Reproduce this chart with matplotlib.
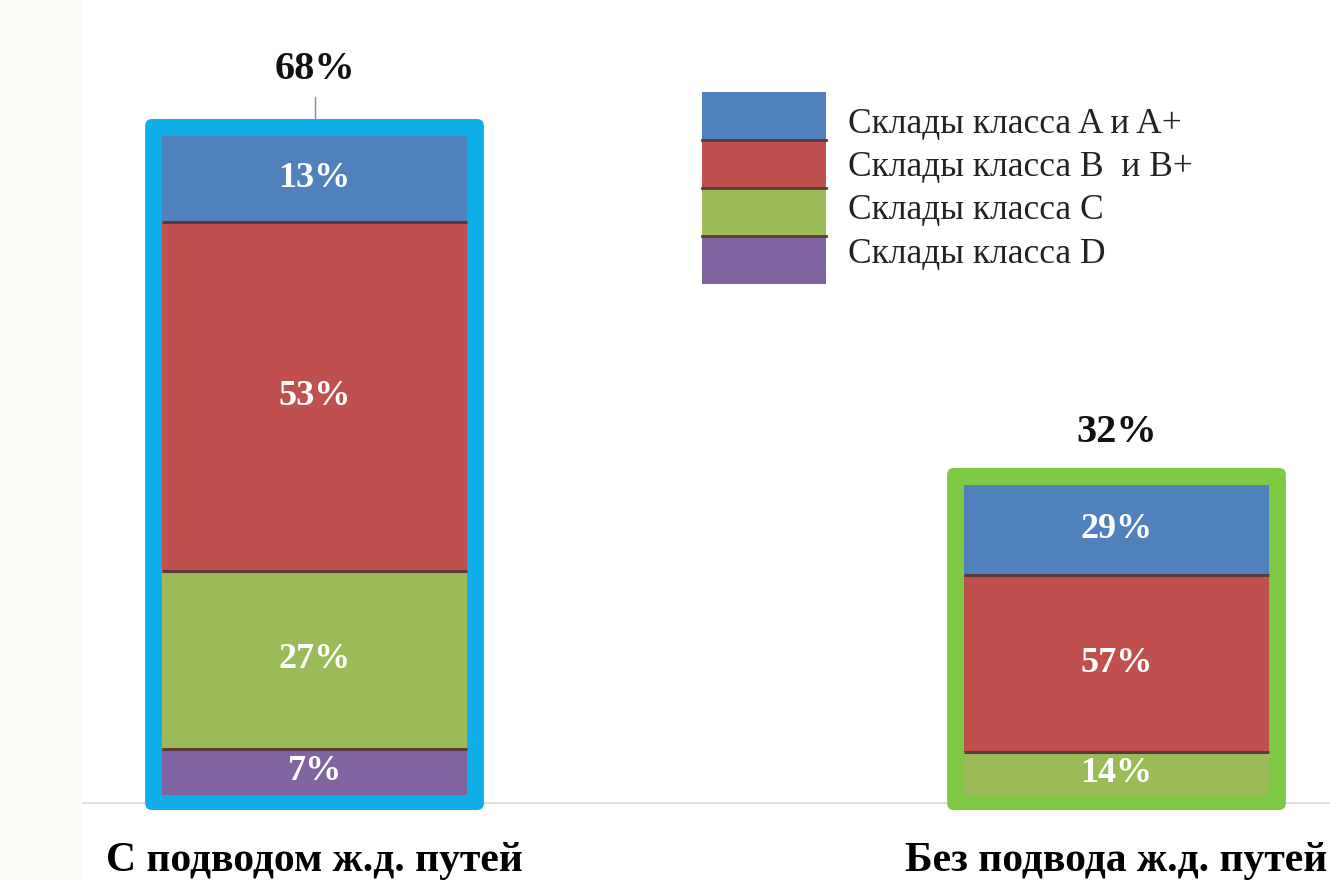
import numpy as np
import matplotlib
matplotlib.use("Agg")
import matplotlib.pyplot as plt
from matplotlib.patches import Rectangle, FancyBboxPatch
from matplotlib.transforms import IdentityTransform

# data
categories = ["С подводом ж.д. путей", "Без подвода ж.д. путей"]
totals = [68, 32]                      # share of all warehouses, %
classes = ["Склады класса A и A+", "Склады класса B  и B+",
           "Склады класса C", "Склады класса D"]
# share of each class inside a category, % (top -> bottom order in bar)
shares = {
    "Склады класса A и A+": [13, 29],
    "Склады класса B  и B+": [53, 57],
    "Склады класса C": [27, 14],
    "Склады класса D": [7, 0],
}

colors = ["#4F81BD", "#C0504D", "#9BBB59", "#8064A2"]
frame_colors = ["#0FAEE8", "#7DC944"]
sep_color = "#5a3a3a"

plt.rcParams["font.family"] = ["Liberation Serif", "DejaVu Serif"]

W, H = 1330, 880
fig = plt.figure(figsize=(13.3, 8.8), dpi=100, facecolor="white")
# faint off-white strip on the left edge of the slide
fig.add_artist(Rectangle((0, 0), 82 / W, 1, transform=fig.transFigure,
                         color="#fcfcf8", lw=0, zorder=-5))
ax = fig.add_axes([83 / W, 0.0875, 1 - 83 / W, 0.9])
ax.set_facecolor("white")

x = np.arange(len(categories))
w = 0.38
ax.set_xlim(-0.2887, 1.2662)
ax.set_ylim(-0.825, 80.9)

# stack from bottom: D, C, B, A
bottom = np.zeros(len(categories))
for cls, col in reversed(list(zip(classes, colors))):
    h = np.array(shares[cls]) * np.array(totals) / 100.0
    ax.bar(x, h, w, bottom=bottom, color=col, zorder=4, linewidth=0)
    for i in range(len(x)):
        if h[i] <= 0:
            continue
        if bottom[i] > 0:
            ax.plot([x[i] - w / 2, x[i] + w / 2], [bottom[i], bottom[i]],
                    color=sep_color, lw=2.2, zorder=5, solid_capstyle="butt")
        ax.text(x[i], bottom[i] + h[i] / 2, f"{shares[cls][i]}%", ha="center",
                va="center", color="white", fontsize=26, fontweight="bold", zorder=6)
    bottom = bottom + h

# colored rounded frames around each bar (drawn in pixel space)
for i, tot in enumerate(totals):
    (x0, y0), (x1, y1) = ax.transData.transform([(x[i] - w / 2, 0), (x[i] + w / 2, tot)])
    frame = FancyBboxPatch((x0 - 17, y0 - 15), (x1 - x0) + 34, (y1 - y0) + 32,
                           boxstyle="round,pad=0,rounding_size=7",
                           transform=IdentityTransform(), facecolor=frame_colors[i],
                           edgecolor="none", zorder=3, clip_on=False)
    ax.add_patch(frame)

# total labels
offsets = [5.0, 3.5]
for i, tot in enumerate(totals):
    ax.text(x[i], tot + offsets[i], f"{tot}%", ha="center", va="bottom",
            fontsize=29, fontweight="bold", color="#111111")
ax.plot([x[0], x[0]], [totals[0] + 1.8, totals[0] + 4.0], color="#888888", lw=1)

ax.set_xticks(x)
ax.set_xticklabels(categories, fontsize=30, fontweight="bold")
ax.tick_params(axis="x", length=0, pad=28)
ax.set_yticks([])
for s in ["top", "right", "left"]:
    ax.spines[s].set_visible(False)
ax.spines["bottom"].set_color("#d9d9d9")
ax.spines["bottom"].set_linewidth(1.2)

# legend drawn by hand
lx, ly, lw_, lh = 702, 92, 124, 48
for k, (cls, col) in enumerate(zip(classes, colors)):
    top = ly + k * lh
    fig.add_artist(Rectangle((lx / W, 1 - (top + lh) / H), lw_ / W, lh / H,
                             transform=fig.transFigure, color=col, lw=0))
    if k > 0:
        fig.add_artist(plt.Line2D([lx / W, (lx + lw_) / W], [1 - top / H] * 2,
                                  transform=fig.transFigure, color=sep_color, lw=2))
    fig.text(848 / W, 1 - (124 + k * 43.5) / H, cls, fontsize=25.5,
             va="center", ha="left", color="#222222")

fig.savefig("out.png", dpi=100, facecolor=fig.get_facecolor())
